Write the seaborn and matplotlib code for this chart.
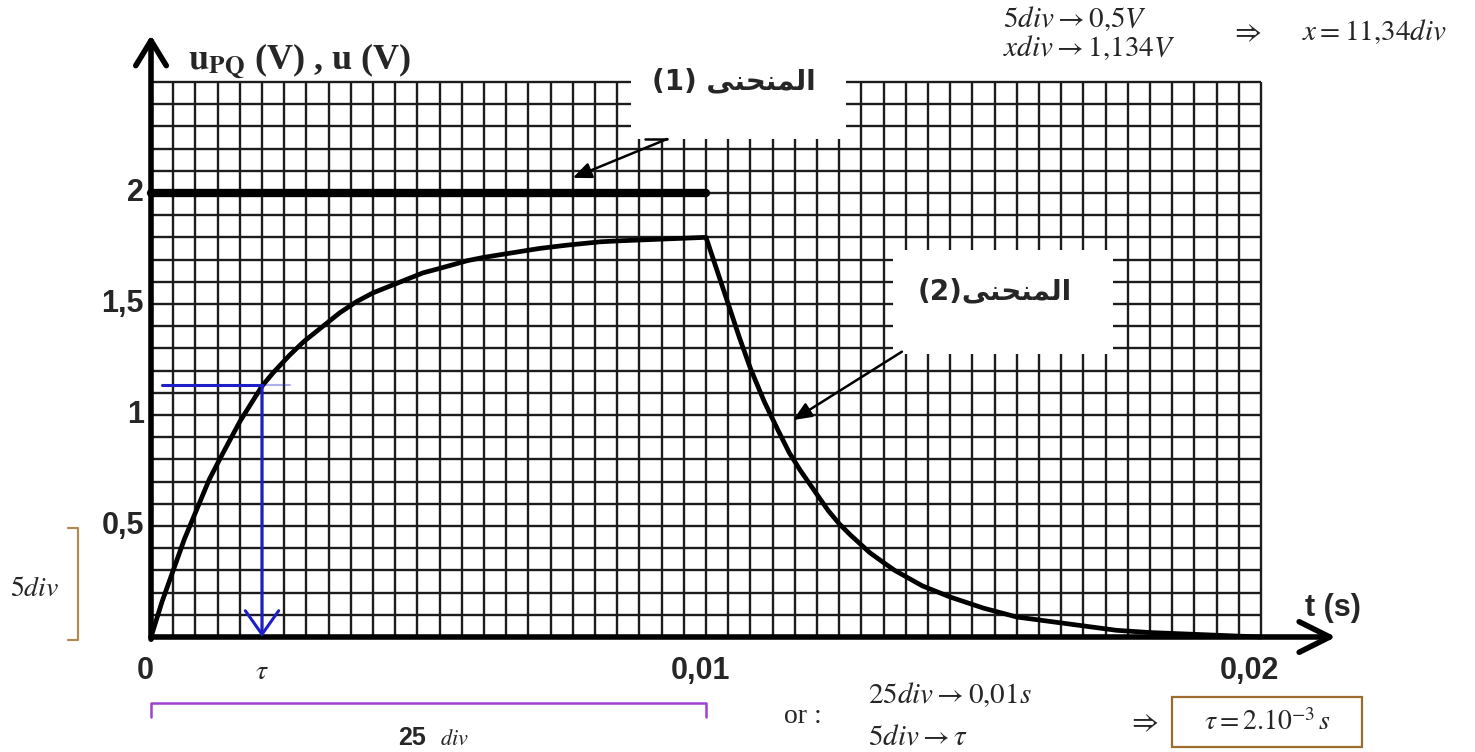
# -*- coding: utf-8 -*-
# RC circuit: u_PQ (curve 1) and u (curve 2) on scanned-style graph paper

# %% Imports
import numpy as np
import pandas as pd
import matplotlib
matplotlib.use("Agg")
import matplotlib.pyplot as plt
from matplotlib.patches import Rectangle
import seaborn as sns

# %% Plotting config
sns.set_style("white")
plt.rcParams['font.family'] = ['DejaVu Sans']
plt.rcParams['mathtext.fontset'] = 'stix'

# %% Data (t in ms, u in V)
t_step_ms = [0.0, 10.0]
u_step = [2.0, 2.0]

t_charge_ms = [0, 0.2, 0.4, 0.6, 0.85, 1.05, 1.3, 1.6, 1.8, 2.0, 2.2, 2.5,
               2.75, 3.0, 3.4, 3.7, 4.0, 4.3, 4.6, 4.9, 5.2, 5.7, 6.0, 6.5,
               7.0, 7.5, 8.1, 8.5, 9.0, 9.5, 10.0]
u_charge = [0, 0.16, 0.30, 0.44, 0.59, 0.71, 0.83, 0.97, 1.05, 1.13, 1.19, 1.27,
            1.33, 1.38, 1.46, 1.51, 1.55, 1.58, 1.61, 1.64, 1.66, 1.695, 1.71, 1.73,
            1.75, 1.765, 1.78, 1.785, 1.79, 1.795, 1.80]

t_discharge_ms = [10.0, 10.2, 10.4, 10.6, 10.8, 11.05, 11.3, 11.5, 11.7, 11.95,
                  12.2, 12.4, 12.6, 12.95, 13.2, 13.4, 13.65, 13.9, 14.15,
                  14.4, 14.7, 15.0, 15.3, 15.6, 15.9, 16.2, 16.5, 16.8, 17.1,
                  17.4, 17.7, 18.0, 18.5, 19.0, 19.5, 20.0]
u_discharge = [1.80, 1.65, 1.50, 1.35, 1.21, 1.06, 0.93, 0.83, 0.75, 0.66,
               0.57, 0.51, 0.46, 0.38, 0.335, 0.30, 0.265, 0.23, 0.205,
               0.18, 0.155, 0.13, 0.11, 0.09, 0.08, 0.07, 0.06, 0.05, 0.04,
               0.03, 0.025, 0.02, 0.015, 0.01, 0.005, 0.0]

tau_s = 0.002
u_tau = 1.134

y_tick_values = [2.0, 1.5, 1.0, 0.5]
y_tick_labels = ['2', '1,5', '1', '0,5']
x_tick_values = [0.0, 0.01, 0.02]
x_tick_labels = ['0', '0,01', '0,02']

# graph paper: 50 div along t (0.0004 s each), 25 div along u (0.1 V each)
n_div_t, div_t = 50, 0.0004
n_div_u, div_u = 25, 0.1

# %% DataFrames
df1 = pd.DataFrame({'t': np.array(t_step_ms) / 1000, 'u': u_step})
df2 = pd.DataFrame({'t': np.array(t_charge_ms + t_discharge_ms[1:]) / 1000,
                    'u': u_charge + u_discharge[1:]})

# %% Figure
fig = plt.figure(figsize=(14.75, 7.52), dpi=100)
ax = fig.add_axes([0, 0, 1, 1])
ax.set_xlim(-0.002721, 0.023856)
ax.set_ylim(-0.518, 2.869)
ax.axis('off')

grid_kw = dict(color='#1c1c1c', lw=1.7, zorder=1)
for i in range(1, n_div_t + 1):
    ax.vlines(i * div_t, 0, n_div_u * div_u, **grid_kw)
for j in range(1, n_div_u + 1):
    ax.hlines(j * div_u, 0, n_div_t * div_t, **grid_kw)

# erased patches of graph paper behind the labels
ax.add_patch(Rectangle((0.00865, 2.245), 0.00387, 0.4,
                       facecolor='white', edgecolor='none', zorder=2))
ax.add_patch(Rectangle((0.01337, 1.275), 0.00396, 0.47,
                       facecolor='white', edgecolor='none', zorder=2))

# curves
sns.lineplot(data=df1, x='t', y='u', ax=ax, color='black', lw=6,
             estimator=None, sort=False, zorder=4)
sns.lineplot(data=df2, x='t', y='u', ax=ax, color='black', lw=3.4,
             estimator=None, sort=False, zorder=4)

# axes with open arrow heads
ax.annotate('', xy=(0.02135, 0), xytext=(0, 0),
            arrowprops=dict(arrowstyle='->,head_length=1.1,head_width=0.55',
                            lw=4, color='black', mutation_scale=20,
                            shrinkA=0, shrinkB=0), zorder=5)
ax.annotate('', xy=(0, 2.71), xytext=(0, -0.01),
            arrowprops=dict(arrowstyle='->,head_length=0.9,head_width=0.55',
                            lw=4, color='black', mutation_scale=20,
                            shrinkA=0, shrinkB=0), zorder=5)

# tau construction (blue)
blue = '#1f1fc8'
ax.plot([0.0002, tau_s], [u_tau, u_tau], color=blue, lw=2.2, zorder=6)
ax.plot([tau_s, 0.0025], [u_tau, u_tau], color=blue, lw=1.5, alpha=0.35, zorder=6)
ax.annotate('', xy=(tau_s, 0), xytext=(tau_s, u_tau),
            arrowprops=dict(arrowstyle='->,head_length=0.85,head_width=0.6',
                            lw=2.2, color=blue, mutation_scale=20,
                            shrinkA=0, shrinkB=0), zorder=6)

# tick labels
tick_font = dict(family='Liberation Sans', weight='bold', fontsize=22)
for v, lab in zip(y_tick_values, y_tick_labels):
    ax.text(-0.00013, v, lab, ha='right', va='center', **tick_font)
for v, lab in zip(x_tick_values, x_tick_labels):
    ax.text(v - 0.0001 if v < 0.015 else v - 0.0002, -0.155, lab,
            ha='center', va='center', **tick_font)
ax.text(tau_s, -0.155, r'$\tau$', ha='center', va='center', fontsize=20)
ax.text(0.0213, 0.13, 't (s)', ha='center', va='center', **tick_font)

# axis title
ax.text(0.00067, 2.59, r'$\mathbf{u}_{\mathbf{PQ}}$ (V) , u (V)',
        ha='left', va='center', family='Liberation Serif', weight='bold',
        fontsize=26)

# arabic curve labels (presentation forms, visual order)
word = '\uFEF0\uFEE8\uFEA4\uFEE8\uFEE4\uFEDF\uFE8D'
ax.text(0.0105, 2.5, '(1) ' + word, ha='center', va='center',
        weight='bold', fontsize=20, zorder=7)
ax.text(0.01521, 1.554, '(2)' + word, ha='center', va='center',
        weight='bold', fontsize=20, zorder=7)

arr_kw = dict(arrowstyle='-|>,head_length=0.7,head_width=0.3', lw=1.8,
              color='black', mutation_scale=16, shrinkA=0, shrinkB=0)
ax.plot([0.0089, 0.0093], [2.243, 2.243], color='black', lw=1.8, zorder=7)
ax.annotate('', xy=(0.0076, 2.068), xytext=(0.0093, 2.243),
            arrowprops=arr_kw, zorder=7)
ax.annotate('', xy=(0.01157, 0.977), xytext=(0.01353, 1.285),
            arrowprops=arr_kw, zorder=7)

# left bracket: 5 div = 0.5 V
tan = '#b08a55'
ax.plot([-0.0015, -0.00132, -0.00132, -0.0015], [0.49, 0.49, -0.014, -0.014],
        color=tan, lw=1.6)
ax.text(-0.00209, 0.22, r'$5div$', ha='center', va='center', fontsize=20)

# bottom bracket: 25 div = 0.01 s
purple = '#a040d0'
ax.plot([0, 0, 0.01, 0.01], [-0.36, -0.297, -0.297, -0.36], color=purple, lw=1.8)
ax.text(0.0047, -0.455, '25', ha='center', va='center',
        family='Liberation Sans', weight='bold', fontsize=18)
ax.text(0.0052, -0.46, r'$div$', ha='left', va='center', fontsize=16)

# worked results
txt = dict(fontsize=21, va='center', ha='left')
ax.text(0.01535, 2.785, r'$5div \rightarrow 0{,}5V$', **txt)
ax.text(0.01535, 2.655, r'$xdiv \rightarrow 1{,}134V$', **txt)
ax.text(0.01944, 2.725, r'$\Rightarrow$', **txt)
ax.text(0.02074, 2.725, r'$x = 11{,}34div$', **txt)

ax.text(0.01209, -0.36, 'or :', ha='right', va='center',
        family='Liberation Serif', fontsize=20)
ax.text(0.01292, -0.26, r'$25div \rightarrow 0{,}01s$', **txt)
ax.text(0.01292, -0.45, r'$5div \rightarrow \tau$', **txt)
ax.text(0.01759, -0.383, r'$\Rightarrow$', **txt)
ax.add_patch(Rectangle((0.0184, -0.495), 0.00342, 0.225, facecolor='none',
                       edgecolor='#9c6b30', lw=1.6))
ax.text(0.02011, -0.383, r'$\tau = 2.10^{-3}\,s$', ha='center', va='center',
        fontsize=20)

fig.savefig('out.png', dpi=100)
